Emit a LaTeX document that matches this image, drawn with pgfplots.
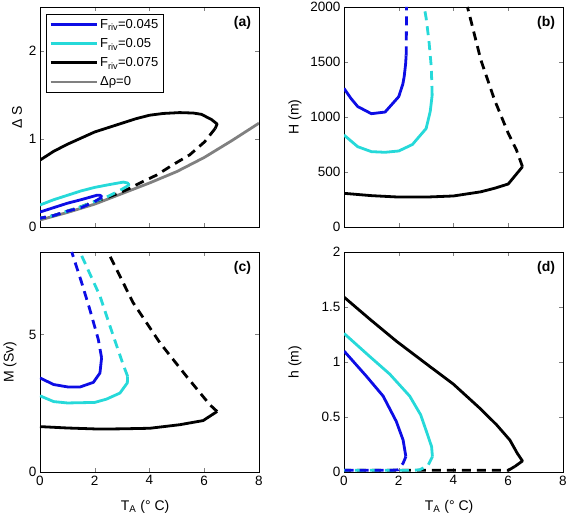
\documentclass[border=0pt]{standalone}
\usepackage{fontspec}
\setmainfont{Liberation Sans}
\usepackage{pgfplots}
\pgfplotsset{compat=1.18}
\definecolor{mblue}{rgb}{0.05,0.05,0.9}
\definecolor{mcyan}{rgb}{0.15,0.85,0.85}
\definecolor{mgray}{rgb}{0.5,0.5,0.5}
\pgfplotsset{
  every axis/.append style={
    scale only axis, width=219pt, height=220pt,
    xmin=0, xmax=8, xtick={0,2,4,6,8},
    tick align=inside, major tick length=4pt,
    /pgf/number format/assume math mode=true,
    /pgf/number format/1000 sep={},
    tick label style={font=\fontsize{13.5}{16}\selectfont},
    label style={font=\fontsize{14}{16}\selectfont},
    line width=0.5pt,
  },
  sol/.style={line width=2.8pt, line join=round},
  das/.style={line width=2.8pt, dash pattern=on 9pt off 6pt},
}
\begin{document}
\begin{tikzpicture}
\useasboundingbox (0,0) rectangle (568pt,521pt);
% (a)
\begin{axis}[at={(40pt,294pt)}, anchor=south west,
  ymin=0, ymax=2.5, ytick={0,1,2}, xticklabels={},
  ylabel={Δ S}, ylabel style={at={(axis description cs:-0.105,0.5)}, anchor=center},
  legend style={at={(axis description cs:0.027,0.968)}, anchor=north west, draw=black, line width=0.8pt,
     font=\fontsize{13}{15}\selectfont, row sep=4.5pt, inner sep=3pt},
  legend cell align=left,
  legend image code/.code={\draw[#1] (0pt,0pt) -- (46pt,0pt);},
]
\addlegendimage{mblue, line width=2.8pt}
\addlegendentry{F\textsubscript{riv}=0.045}
\addlegendimage{mcyan, line width=2.8pt}
\addlegendentry{F\textsubscript{riv}=0.05}
\addlegendimage{black, line width=2.8pt}
\addlegendentry{F\textsubscript{riv}=0.075}
\addlegendimage{mgray, line width=2.8pt}
\addlegendentry{Δρ=0}
\addplot[mgray, sol, forget plot] coordinates {(0,0.08)(1,0.165)(2,0.26)(3,0.38)(4,0.50)(5,0.63)(6,0.79)(7,0.98)(8,1.18)};
\addplot[black, sol, forget plot] coordinates {(0,0.76)(0.5,0.86)(1,0.94)(1.5,1.01)(2,1.08)(2.5,1.13)(3,1.18)(3.5,1.23)(4,1.27)(4.5,1.29)(5.1,1.30)(5.6,1.295)(5.9,1.28)(6.27,1.22)(6.47,1.17)(6.4,1.12)};
\addplot[black, das, forget plot] coordinates {(6.4,1.12)(6.02,0.97)(5.47,0.82)(4.87,0.71)(4.26,0.59)(3.65,0.50)(3.28,0.44)(3,0.40)(2.5,0.34)(2,0.29)(1.5,0.23)(1,0.18)(0.5,0.13)(0,0.10)};
\addplot[mcyan, sol, forget plot] coordinates {(0,0.25)(0.5,0.31)(1,0.36)(1.5,0.41)(2,0.45)(2.5,0.48)(3.04,0.51)(3.2,0.50)(3.25,0.48)(3.22,0.47)};
\addplot[mcyan, das, forget plot] coordinates {(3.22,0.47)(3.0,0.43)(2.5,0.35)(2.0,0.29)(1.5,0.23)(1,0.18)(0.5,0.13)(0,0.10)};
\addplot[mblue, sol, forget plot] coordinates {(0,0.17)(0.5,0.22)(1,0.27)(1.5,0.31)(2.07,0.36)(2.2,0.36)(2.27,0.34)};
\addplot[mblue, das, forget plot] coordinates {(2.27,0.34)(1.95,0.28)(1.5,0.22)(1,0.18)(0.5,0.13)(0,0.10)};
\node[anchor=north east, font=\bfseries\fontsize{14}{16}\selectfont] at (axis description cs:0.98,0.975) {(a)};
\end{axis}
% (b)
\begin{axis}[at={(344pt,294pt)}, anchor=south west,
  ymin=0, ymax=2000, ytick={0,500,1000,1500,2000}, xticklabels={},
  ylabel={H (m)}, ylabel style={at={(axis description cs:-0.224,0.5)}, anchor=center},
]
\addplot[black, sol] coordinates {(0,306)(1,285)(2,272)(3,272)(4,282)(5,320)(5.5,352)(6,391)(6.52,548)};
\addplot[black, das] coordinates {(6.52,548)(6.3,700)(6.0,852)(5.5,1155)(5.0,1518)(4.51,2000)};
\addplot[mcyan, sol] coordinates {(0,836)(0.5,730)(1,685)(1.5,679)(2,691)(2.5,750)(3.0,895)(3.15,1050)(3.2,1155)(3.22,1200)};
\addplot[mcyan, das] coordinates {(3.22,1200)(3.19,1450)(3.1,1700)(3.0,1900)(2.93,2000)};
\addplot[mblue, sol] coordinates {(0,1260)(0.25,1170)(0.5,1095)(1,1030)(1.5,1045)(2,1185)(2.15,1300)(2.2,1370)(2.25,1480)(2.27,1560)};
\addplot[mblue, das] coordinates {(2.27,1560)(2.28,1800)(2.28,2000)};
\node[anchor=north east, font=\bfseries\fontsize{14}{16}\selectfont] at (axis description cs:0.98,0.975) {(b)};
\end{axis}
% (c)
\begin{axis}[at={(40pt,49pt)}, anchor=south west,
  ymin=0, ymax=8, ytick={0,5},
  ylabel={M (Sv)}, ylabel style={at={(axis description cs:-0.137,0.5)}, anchor=center},
  xlabel={T\textsubscript{A} (° C)}, xlabel style={at={(axis description cs:0.48,-0.16)}, anchor=center},
]
\addplot[black, sol] coordinates {(0,1.65)(1,1.6)(2.19,1.56)(3,1.57)(4.01,1.59)(5.11,1.72)(5.96,1.87)(6.47,2.2)};
\addplot[black, das] coordinates {(6.47,2.2)(6.2,2.45)(5.35,3.48)(4.38,4.7)(3.4,6.16)(2.55,7.86)(2.45,8.0)};
\addplot[mcyan, sol] coordinates {(0,2.77)(0.5,2.56)(1,2.51)(2,2.53)(2.43,2.65)(2.92,2.87)(3.19,3.24)(3.2,3.48)};
\addplot[mcyan, das] coordinates {(3.2,3.48)(3.04,3.9)(2.68,4.94)(2.19,6.4)(1.46,8.0)};
\addplot[mblue, sol] coordinates {(0,3.42)(0.5,3.18)(1.03,3.09)(1.46,3.09)(1.95,3.26)(2.19,3.6)(2.25,4.15)};
\addplot[mblue, das] coordinates {(2.25,4.15)(2.13,4.82)(1.82,5.91)(1.52,6.89)(1.16,8.0)};
\node[anchor=north east, font=\bfseries\fontsize{14}{16}\selectfont] at (axis description cs:0.98,0.975) {(c)};
\end{axis}
% (d)
\begin{axis}[at={(344pt,49pt)}, anchor=south west,
  ymin=0, ymax=2, ytick={0,0.5,1,1.5,2},
  ylabel={h (m)}, ylabel style={at={(axis description cs:-0.224,0.5)}, anchor=center},
  xlabel={T\textsubscript{A} (° C)}, xlabel style={at={(axis description cs:0.48,-0.16)}, anchor=center},
]
\addplot[black, sol] coordinates {(0,1.59)(0.94,1.39)(1.91,1.19)(3.13,0.96)(3.99,0.80)(4.96,0.58)(5.57,0.43)(6.06,0.29)(6.33,0.17)(6.52,0.10)(6.24,0.05)};
\addplot[black, das] coordinates {(6.24,0.05)(6.0,0.015)(0,0.015)};
\addplot[mcyan, sol] coordinates {(0,1.26)(0.94,1.05)(1.67,0.89)(2.4,0.69)(2.8,0.52)(3.01,0.37)(3.2,0.23)(3.23,0.14)};
\addplot[mcyan, das] coordinates {(3.23,0.14)(3.07,0.06)(2.77,0.02)(2.5,0.015)(0,0.015)};
\addplot[mblue, sol] coordinates {(0,1.10)(0.82,0.87)(1.43,0.69)(1.91,0.46)(2.16,0.29)(2.26,0.14)};
\addplot[mblue, das] coordinates {(2.26,0.14)(2.16,0.08)(1.98,0.02)(1.7,0.015)(0,0.015)};
\node[anchor=north east, font=\bfseries\fontsize{14}{16}\selectfont] at (axis description cs:0.98,0.975) {(d)};
\end{axis}
\end{tikzpicture}
\end{document}
